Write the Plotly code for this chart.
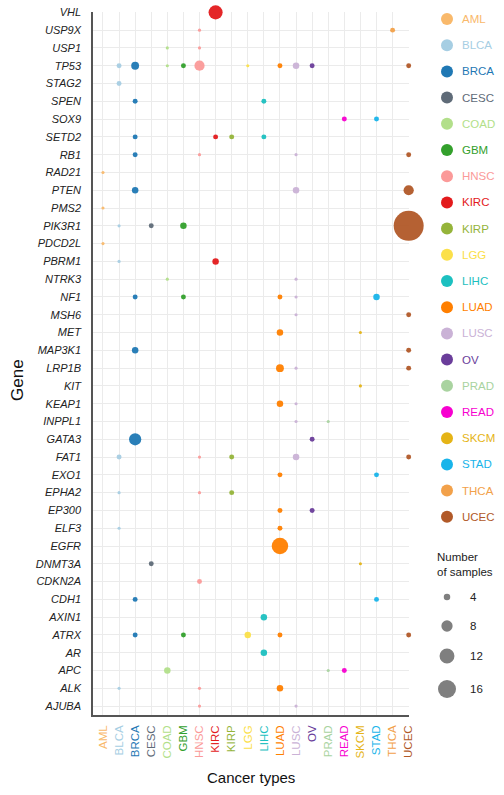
import plotly.graph_objects as go

# ---- data -------------------------------------------------------------
genes = ["AJUBA", "ALK", "APC", "AR", "ATRX", "AXIN1", "CDH1", "CDKN2A",
         "DNMT3A", "EGFR", "ELF3", "EP300", "EPHA2", "EXO1", "FAT1", "GATA3",
         "INPPL1", "KEAP1", "KIT", "LRP1B", "MAP3K1", "MET", "MSH6", "NF1",
         "NTRK3", "PBRM1", "PDCD2L", "PIK3R1", "PMS2", "PTEN", "RAD21", "RB1",
         "SETD2", "SOX9", "SPEN", "STAG2", "TP53", "USP1", "USP9X", "VHL"]

cancers = ["AML", "BLCA", "BRCA", "CESC", "COAD", "GBM", "HNSC", "KIRC",
           "KIRP", "LGG", "LIHC", "LUAD", "LUSC", "OV", "PRAD", "READ",
           "SKCM", "STAD", "THCA", "UCEC"]

cancer_colors = ["#F9B96B", "#A6CEE3", "#1F78B4", "#5F6B78", "#B2DF8A",
                 "#33A02C", "#FB9A99", "#E31A1C", "#95B43A", "#FBE04A",
                 "#1CC0C0", "#FF7F00", "#CAB2D6", "#6A3D9A", "#A9D3A0",
                 "#F700D0", "#E5B416", "#18B4EA", "#F2A14A", "#B15928"]

hit_gene = [
    "VHL",
    "USP9X", "USP9X",
    "USP1", "USP1",
    "TP53", "TP53", "TP53", "TP53", "TP53", "TP53", "TP53", "TP53", "TP53", "TP53",
    "STAG2",
    "SPEN", "SPEN",
    "SOX9", "SOX9",
    "SETD2", "SETD2", "SETD2", "SETD2",
    "RB1", "RB1", "RB1", "RB1",
    "RAD21",
    "PTEN", "PTEN", "PTEN",
    "PMS2",
    "PIK3R1", "PIK3R1", "PIK3R1", "PIK3R1",
    "PDCD2L",
    "PBRM1", "PBRM1",
    "NTRK3", "NTRK3",
    "NF1", "NF1", "NF1", "NF1", "NF1",
    "MSH6", "MSH6",
    "MET", "MET",
    "MAP3K1", "MAP3K1",
    "LRP1B", "LRP1B", "LRP1B",
    "KIT",
    "KEAP1", "KEAP1",
    "INPPL1", "INPPL1",
    "GATA3", "GATA3",
    "FAT1", "FAT1", "FAT1", "FAT1", "FAT1",
    "EXO1", "EXO1",
    "EPHA2", "EPHA2", "EPHA2",
    "EP300", "EP300",
    "ELF3", "ELF3",
    "EGFR",
    "DNMT3A", "DNMT3A",
    "CDKN2A",
    "CDH1", "CDH1",
    "AXIN1",
    "ATRX", "ATRX", "ATRX", "ATRX", "ATRX",
    "AR",
    "APC", "APC", "APC",
    "ALK", "ALK", "ALK",
    "AJUBA", "AJUBA",
]

hit_cancer = [
    "KIRC",
    "HNSC", "THCA",
    "COAD", "HNSC",
    "BLCA", "BRCA", "COAD", "GBM", "HNSC", "LGG", "LUAD", "LUSC", "OV", "UCEC",
    "BLCA",
    "BRCA", "LIHC",
    "READ", "STAD",
    "BRCA", "KIRC", "KIRP", "LIHC",
    "BRCA", "HNSC", "LUSC", "UCEC",
    "AML",
    "BRCA", "LUSC", "UCEC",
    "AML",
    "BLCA", "CESC", "GBM", "UCEC",
    "AML",
    "BLCA", "KIRC",
    "COAD", "LUSC",
    "BRCA", "GBM", "LUAD", "LUSC", "STAD",
    "LUSC", "UCEC",
    "LUAD", "SKCM",
    "BRCA", "UCEC",
    "LUAD", "LUSC", "UCEC",
    "SKCM",
    "LUAD", "LUSC",
    "LUSC", "PRAD",
    "BRCA", "OV",
    "BLCA", "HNSC", "KIRP", "LUSC", "UCEC",
    "LUAD", "STAD",
    "BLCA", "HNSC", "KIRP",
    "LUAD", "OV",
    "BLCA", "LUAD",
    "LUAD",
    "CESC", "SKCM",
    "HNSC",
    "BRCA", "STAD",
    "LIHC",
    "BRCA", "GBM", "LGG", "LUAD", "UCEC",
    "LIHC",
    "COAD", "PRAD", "READ",
    "BLCA", "HNSC", "LUAD",
    "HNSC", "LUSC",
]

hit_samples = [
    11,
    2, 3,
    2, 2,
    3, 5, 2, 3, 7, 2, 3, 4, 3, 3,
    3,
    3, 3,
    3, 3,
    3, 3, 3, 3,
    3, 2, 2, 3,
    2,
    4, 4, 7,
    2,
    2, 3, 4, 37,
    2,
    2, 4,
    2, 2,
    3, 3, 3, 2, 4,
    2, 3,
    4, 2,
    4, 3,
    5, 2, 3,
    2,
    4, 2,
    2, 2,
    9, 3,
    3, 2, 3, 4, 3,
    3, 3,
    2, 2, 3,
    3, 3,
    2, 3,
    14,
    3, 2,
    3,
    3, 3,
    4,
    3, 3, 4, 3, 3,
    4,
    4, 2, 3,
    2, 2, 4,
    2, 2,
]

size_legend_values = [4, 8, 12, 16]

# ---- layout constants ------------------------------------------------------
FIG_W, FIG_H = 504, 795
M_L, M_R, M_T, M_B = 93, 95, 12, 80
PLOT_W = FIG_W - M_L - M_R
PLOT_H = FIG_H - M_T - M_B
FONT = "Liberation Sans, Arial, sans-serif"


def px_x(px):
    return (px - M_L) / PLOT_W


def px_y(py):
    return (FIG_H - M_B - py) / PLOT_H


def dot_diameter(n):
    # area-like scaling of sample counts to marker diameter (px)
    return max(2.6, 5.75 * n ** 0.5 - 5.0)


color_of = dict(zip(cancers, cancer_colors))

fig = go.Figure()

fig.add_trace(go.Scatter(
    x=[cancers.index(c) for c in hit_cancer],
    y=[genes.index(g) for g in hit_gene],
    mode="markers",
    marker=dict(
        size=[dot_diameter(n) for n in hit_samples],
        sizemode="diameter",
        color=[color_of[c] for c in hit_cancer],
        line=dict(width=0),
        opacity=0.95,
    ),
    cliponaxis=False,
    showlegend=False,
    hoverinfo="skip",
))

fig.update_layout(
    width=FIG_W,
    height=FIG_H,
    margin=dict(l=M_L, r=M_R, t=M_T, b=M_B, pad=0),
    paper_bgcolor="white",
    plot_bgcolor="white",
    font=dict(family=FONT, size=11, color="#222222"),
    showlegend=False,
)

fig.update_xaxes(
    range=[-0.62, 19.02],
    tickmode="array",
    tickvals=list(range(len(cancers))),
    ticktext=[f"<span style='color:{col}'>{c}</span>"
              for c, col in zip(cancers, cancer_colors)],
    tickangle=-90,
    tickfont=dict(family=FONT, size=11.5),
    ticks="",
    ticklabelstandoff=4,
    showgrid=True,
    gridcolor="#EBEBEB",
    gridwidth=1,
    zeroline=False,
    showline=True,
    linecolor="#555555",
    linewidth=1.5,
    automargin=False,
    fixedrange=True,
)

fig.update_yaxes(
    range=[-0.5, 39.02],
    tickmode="array",
    tickvals=list(range(len(genes))),
    ticktext=genes,
    tickfont=dict(family=FONT, size=11, style="italic", color="#222222"),
    ticks="",
    ticklabelstandoff=8,
    showgrid=True,
    gridcolor="#EBEBEB",
    gridwidth=1,
    zeroline=False,
    showline=True,
    linecolor="#555555",
    linewidth=1.5,
    automargin=False,
    fixedrange=True,
)

annotations = [
    dict(text="Gene", x=px_x(18), y=px_y(380), xref="paper", yref="paper",
         textangle=-90, showarrow=False, xanchor="center", yanchor="middle",
         font=dict(family=FONT, size=17, color="#111111")),
    dict(text="Cancer types", x=px_x(251), y=px_y(777), xref="paper",
         yref="paper", showarrow=False, xanchor="center", yanchor="middle",
         font=dict(family=FONT, size=15, color="#111111")),
]
shapes = []

# colour legend
LEG_DOT_X, LEG_TXT_X, LEG_Y0, LEG_STEP = 447, 460, 19, 26.2
for i, (c, col) in enumerate(zip(cancers, cancer_colors)):
    cy = LEG_Y0 + i * LEG_STEP
    r = 6
    shapes.append(dict(type="circle", xref="paper", yref="paper",
                       xsizemode="pixel", ysizemode="pixel",
                       xanchor=px_x(LEG_DOT_X), yanchor=px_y(cy),
                       x0=-r, x1=r, y0=-r, y1=r,
                       fillcolor=col, line=dict(width=0)))
    annotations.append(dict(text=c, x=px_x(LEG_TXT_X), y=px_y(cy),
                            xref="paper", yref="paper", showarrow=False,
                            xanchor="left", yanchor="middle",
                            font=dict(family=FONT, size=11.5, color=col)))

# size legend
annotations.append(dict(text="Number<br>of samples", x=px_x(435), y=px_y(564),
                        xref="paper", yref="paper", showarrow=False,
                        xanchor="left", yanchor="middle", align="left",
                        font=dict(family=FONT, size=11.5, color="#222222")))
size_rows_y = [597, 626, 656, 689]
for n, cy in zip(size_legend_values, size_rows_y):
    r = dot_diameter(n) / 2
    shapes.append(dict(type="circle", xref="paper", yref="paper",
                       xsizemode="pixel", ysizemode="pixel",
                       xanchor=px_x(447), yanchor=px_y(cy),
                       x0=-r, x1=r, y0=-r, y1=r,
                       fillcolor="#7F7F7F", line=dict(width=0)))
    annotations.append(dict(text=str(n), x=px_x(468), y=px_y(cy),
                            xref="paper", yref="paper", showarrow=False,
                            xanchor="left", yanchor="middle",
                            font=dict(family=FONT, size=11.5, color="#222222")))

fig.update_layout(annotations=annotations, shapes=shapes)

fig.write_html("out.html")
